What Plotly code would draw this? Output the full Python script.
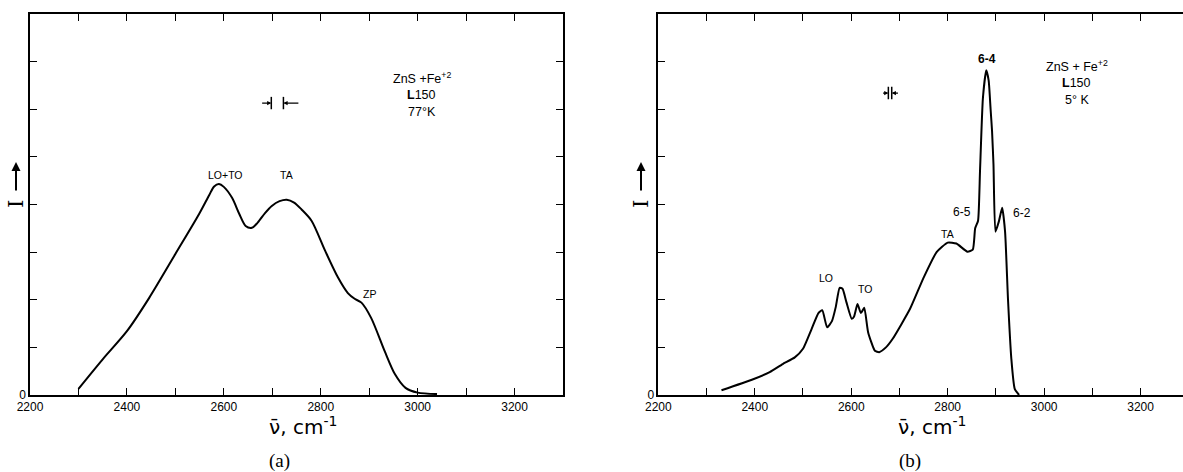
import plotly.graph_objects as go

# ---------------- data ----------------
# (a) ZnS + Fe+2, L150, 77 K
nu_a = [2300, 2350, 2400, 2446, 2500, 2549, 2570, 2580, 2590, 2600, 2617, 2632,
        2645, 2658, 2670, 2685, 2699, 2715, 2730, 2745, 2760, 2781, 2809, 2836,
        2856, 2870, 2884, 2904, 2932, 2953, 2975, 3000, 3040]
I_a = [0.13, 0.75, 1.34, 2.04, 2.96, 3.80, 4.20, 4.38, 4.43, 4.37, 4.14, 3.80,
       3.55, 3.51, 3.62, 3.82, 3.97, 4.07, 4.10, 4.04, 3.90, 3.66, 3.03, 2.46,
       2.14, 2.02, 1.94, 1.62, 0.92, 0.44, 0.15, 0.05, 0.02]

# (b) ZnS + Fe+2, L150, 5 K
nu_b = [2331, 2394, 2431, 2458, 2483, 2500, 2518, 2532, 2540, 2550, 2560, 2568,
        2576, 2582, 2590, 2601, 2606, 2613, 2620, 2627, 2635, 2649, 2658, 2672,
        2686, 2722, 2749, 2777, 2800, 2818, 2841, 2852, 2857, 2863, 2867, 2873,
        2880, 2885, 2889, 2892, 2895, 2899, 2906, 2913, 2919, 2925, 2932, 2939,
        2948]
I_b = [0.10, 0.32, 0.48, 0.65, 0.79, 0.97, 1.39, 1.72, 1.78, 1.42, 1.55, 1.85,
       2.25, 2.23, 1.95, 1.60, 1.65, 1.91, 1.72, 1.83, 1.32, 0.93, 0.90, 1.00,
       1.18, 1.81, 2.44, 3.00, 3.20, 3.18, 3.01, 3.05, 3.50, 3.66, 4.69, 6.23,
       6.82, 6.60, 6.00, 5.54, 4.83, 3.43, 3.64, 3.93, 3.43, 2.02, 0.76, 0.13,
       0.00]

x_ticks = [2200, 2300, 2400, 2500, 2600, 2700, 2800, 2900, 3000, 3100, 3200, 3300]
x_ticklabels = ["2200", "", "2400", "", "2600", "", "2800", "", "3000", "", "3200", ""]
y_ticks = [0, 1, 2, 3, 4, 5, 6, 7, 8]
y_ticklabels = ["0", "", "", "", "", "", "", "", ""]

# peak labels (text, nu, I)
labels_a = [("LO+TO", 2604, 4.62), ("TA", 2729, 4.62), ("ZP", 2901, 2.12)]
labels_b = [("LO", 2548, 2.46), ("TO", 2629, 2.23), ("TA", 2800, 3.39),
            ("6-5", 2830, 3.85), ("6-4", 2881, 7.05), ("6-2", 2954, 3.83)]

# sample descriptions (lines, nu, I)
sample_a = [("ZnS +Fe<sup>+2</sup>", 3008, 6.66), ("<b>L</b>150", 3008, 6.30), ("77°K", 3008, 5.95)]
sample_b = [("ZnS + Fe<sup>+2</sup>", 3068, 6.90), ("<b>L</b>150", 3068, 6.55), ("5° K", 3068, 6.19)]

# spectral slit width markers (bar positions, level, arrow start)
slit_a = {"bars": [2698, 2723], "level": 6.13, "tails": [2676, 2757]}
slit_b = {"bars": [2677, 2684], "level": 6.34, "tails": [2663, 2700]}

# ---------------- figure ----------------
W, H = 1183, 472
T, B = 14, 77

def fx(px):
    return px / W

def fy(py):
    return (H - B - py) / (H - T - B)

fig = go.Figure()

fig.add_trace(go.Scatter(x=nu_a, y=I_a, mode="lines", xaxis="x", yaxis="y",
                         line=dict(color="black", width=2, shape="spline", smoothing=0.8),
                         showlegend=False, hoverinfo="skip"))
fig.add_trace(go.Scatter(x=nu_b, y=I_b, mode="lines", xaxis="x2", yaxis="y2",
                         line=dict(color="black", width=2, shape="spline", smoothing=0.5),
                         showlegend=False, hoverinfo="skip"))

# slit-width bars
for slit, xa, ya, dh in [(slit_a, "x", "y", 0.13), (slit_b, "x2", "y2", 0.13)]:
    for b in slit["bars"]:
        fig.add_trace(go.Scatter(x=[b, b], y=[slit["level"] - dh, slit["level"] + dh],
                                 mode="lines", xaxis=xa, yaxis=ya,
                                 line=dict(color="black", width=1.5),
                                 showlegend=False, hoverinfo="skip"))

axis_common = dict(showgrid=False, zeroline=False, showline=True, linecolor="black",
                   linewidth=1.5, ticks="inside", ticklen=7, tickwidth=1.2,
                   tickcolor="black", automargin=False,
                   tickfont=dict(family="Liberation Sans, Arial", size=12, color="black"))

fig.update_layout(
    width=W, height=H,
    margin=dict(l=0, r=0, t=T, b=B),
    paper_bgcolor="white", plot_bgcolor="white",
    xaxis=dict(domain=[fx(30), fx(563)], range=[2200, 3300], tickvals=x_ticks,
               ticktext=x_ticklabels, mirror="ticks", anchor="y", **axis_common),
    yaxis=dict(domain=[0, 1], range=[0, 8], tickvals=y_ticks, ticktext=y_ticklabels,
               mirror="ticks", anchor="x", ticklabelstandoff=0, **axis_common),
    xaxis2=dict(domain=[fx(658.3), 1], range=[2200, 2200 + (W - 658.3) / 0.4823],
                tickvals=x_ticks, ticktext=x_ticklabels, mirror="ticks", anchor="y2",
                **axis_common),
    yaxis2=dict(domain=[0, 1], range=[0, 8], tickvals=y_ticks, ticktext=y_ticklabels,
                mirror=False, anchor="x2", ticklabelstandoff=0, **axis_common),
)

ann = []
C = dict(xanchor="center", yanchor="middle", showarrow=False)
lab_font = dict(family="Liberation Sans, Arial", size=10.5, color="black")
for txt, x, y in labels_a:
    ann.append(dict(text=txt, x=x, y=y, xref="x", yref="y", font=lab_font, **C))
for txt, x, y in labels_b:
    f = dict(lab_font)
    if txt == "6-4":
        f = dict(family="Liberation Sans, Arial", size=12, color="black")
        txt = "<b>" + txt + "</b>"
    elif txt.startswith("6-"):
        f = dict(family="Liberation Sans, Arial", size=12, color="black")
    ann.append(dict(text=txt, x=x, y=y, xref="x2", yref="y2", font=f, **C))

samp_font = dict(family="Liberation Sans Narrow, Liberation Sans, Arial", size=12.5, color="black")
for txt, x, y in sample_a:
    ann.append(dict(text=txt, x=x, y=y, xref="x", yref="y", font=samp_font, **C))
for txt, x, y in sample_b:
    ann.append(dict(text=txt, x=x, y=y, xref="x2", yref="y2", font=samp_font, **C))

# slit arrows
for slit, xr, yr in [(slit_a, "x", "y"), (slit_b, "x2", "y2")]:
    for b, t in zip(slit["bars"], slit["tails"]):
        ann.append(dict(text="", x=b, y=slit["level"], ax=t, ay=slit["level"],
                        xref=xr, yref=yr, axref=xr, ayref=yr, showarrow=True,
                        arrowhead=2, arrowsize=0.7, arrowwidth=1.2, arrowcolor="black"))

# y-axis "I ->" symbols
for px_i in [16, 641]:
    ann.append(dict(text="I", x=fx(px_i), y=fy(204), xref="paper", yref="paper",
                    textangle=-90,
                    font=dict(family="DejaVu Serif", size=21, color="black"), **C))
    ann.append(dict(text="", x=fx(px_i), y=fy(162), ax=0, ay=30, xref="paper",
                    yref="paper", showarrow=True, arrowhead=2, arrowsize=0.9,
                    arrowwidth=2, arrowcolor="black"))

# x-axis titles and panel letters
for pxc in [303, 932]:
    ann.append(dict(text="ν\u0304, cm<sup>-1</sup>", x=fx(pxc), y=fy(426), xref="paper",
                    yref="paper",
                    font=dict(family="DejaVu Sans", size=20, color="black"), **C))
for txt, pxc in [("(a)", 279), ("(b)", 910)]:
    ann.append(dict(text=txt, x=fx(pxc), y=fy(461), xref="paper", yref="paper",
                    font=dict(family="Liberation Serif, DejaVu Serif", size=19, color="black"), **C))

fig.update_layout(annotations=ann)
fig.write_html("out.html")
